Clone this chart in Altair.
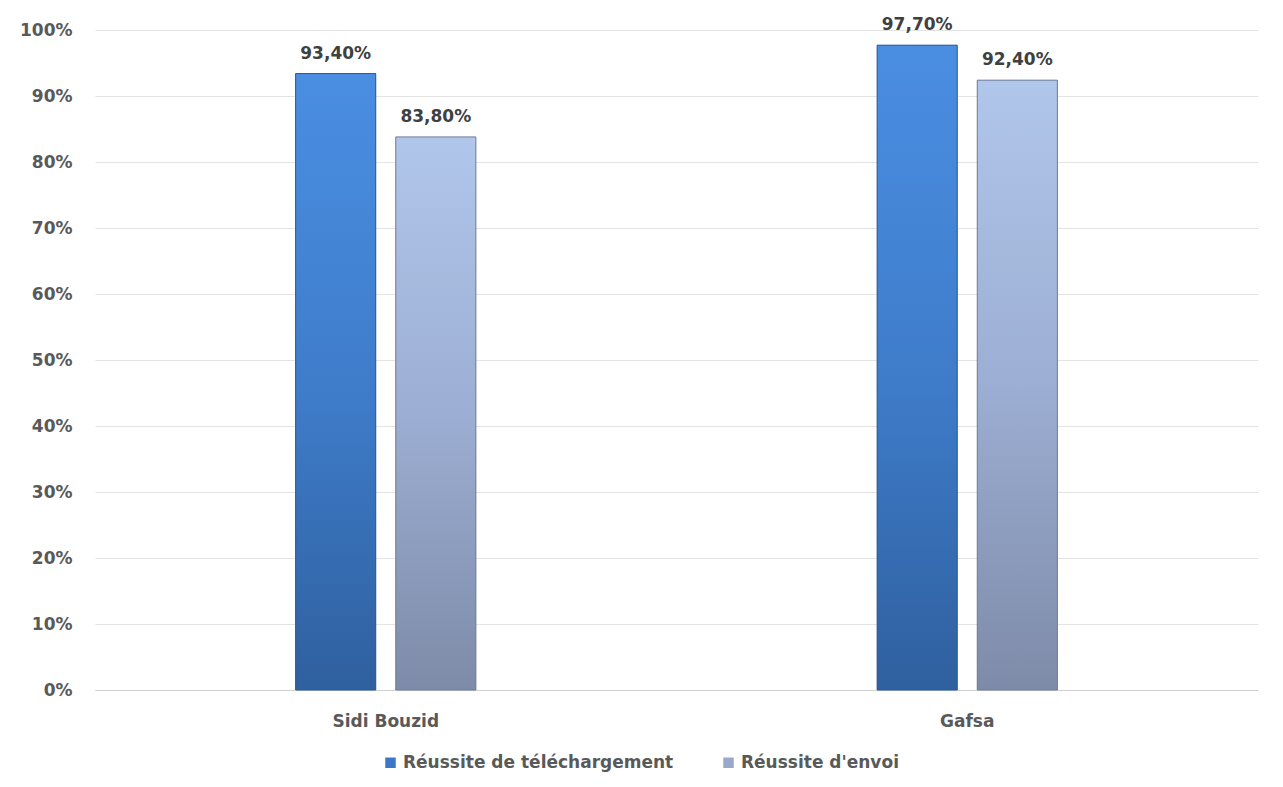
import altair as alt
import pandas as pd

regions = ["Sidi Bouzid", "Gafsa"]
series = ["Réussite de téléchargement", "Réussite d'envoi"]
download_vals = [93.4, 97.7]
send_vals = [83.8, 92.4]
y_ticks = [0, 10, 20, 30, 40, 50, 60, 70, 80, 90, 100]

rows = []
for i, r in enumerate(regions):
    for s, v in zip(series, [download_vals[i], send_vals[i]]):
        rows.append({"region": r, "series": s, "value": v,
                     "label": f"{v:.2f}".replace(".", ",") + "%"})
df = pd.DataFrame(rows)

FONT = "DejaVu Sans"
FS = 17
x_enc = alt.X("region:N", sort=regions, title=None,
              scale=alt.Scale(paddingInner=0.69, paddingOuter=0.345),
              axis=alt.Axis(labelAngle=0, labelFont=FONT, labelFontSize=FS,
                            labelFontWeight="bold", labelColor="#595959",
                            labelPadding=23, ticks=False, domain=True,
                            domainColor="#D0D0D0", grid=False))
xo = alt.XOffset("series:N", sort=series, scale=alt.Scale(paddingInner=0.2, paddingOuter=0))
y_enc = alt.Y("value:Q", title=None,
              scale=alt.Scale(domain=[0, 100], nice=False),
              axis=alt.Axis(values=y_ticks, labelExpr="datum.value + '%'",
                            labelFont=FONT, labelFontSize=FS, labelFontWeight="bold",
                            labelColor="#595959", labelPadding=23, ticks=False,
                            domain=False, gridColor="#E3E3E3", gridWidth=1))

base = alt.Chart(df)

legend_bars = base.mark_bar().encode(
    x=x_enc, xOffset=xo, y=y_enc,
    color=alt.Color("series:N", sort=series,
                    scale=alt.Scale(domain=series, range=["#3C78C8", "#99A9CC"]),
                    legend=alt.Legend(title=None, orient="none", direction="horizontal",
                                      legendX=287, legendY=724,
                                      symbolType="square", symbolSize=110,
                                      labelFont=FONT, labelFontSize=FS,
                                      labelFontWeight="bold", labelColor="#595959",
                                      labelLimit=0, columnPadding=46,
                                      symbolStrokeWidth=0)),
)

grad_blue = alt.Gradient(gradient="linear", x1=0, x2=0, y1=0, y2=1,
                         stops=[alt.GradientStop(color="#4A8EE2", offset=0),
                                alt.GradientStop(color="#3F7DCB", offset=0.5),
                                alt.GradientStop(color="#2F609F", offset=1)])
grad_gray = alt.Gradient(gradient="linear", x1=0, x2=0, y1=0, y2=1,
                         stops=[alt.GradientStop(color="#B0C6EA", offset=0),
                                alt.GradientStop(color="#9CAED3", offset=0.5),
                                alt.GradientStop(color="#7E8BA8", offset=1)])

blue_bars = base.transform_filter(alt.datum.series == series[0]).mark_bar(
    color=grad_blue, stroke="#2A5A96", strokeWidth=1).encode(x=x_enc, xOffset=xo, y=y_enc)
gray_bars = base.transform_filter(alt.datum.series == series[1]).mark_bar(
    color=grad_gray, stroke="#6F7C99", strokeWidth=1).encode(x=x_enc, xOffset=xo, y=y_enc)

labels = base.mark_text(dy=-20, font=FONT, fontSize=FS, fontWeight="bold",
                        color="#404040").encode(
    x=x_enc, xOffset=xo, y=y_enc, text="label:N")

chart = alt.layer(legend_bars, blue_bars, gray_bars, labels).properties(
    width=1163, height=660, background="white",
    padding={"left": 11, "top": 8, "right": 5, "bottom": 5},
).configure_view(stroke=None)

chart.save("out.html", embed_options={"renderer": "svg", "actions": False})
